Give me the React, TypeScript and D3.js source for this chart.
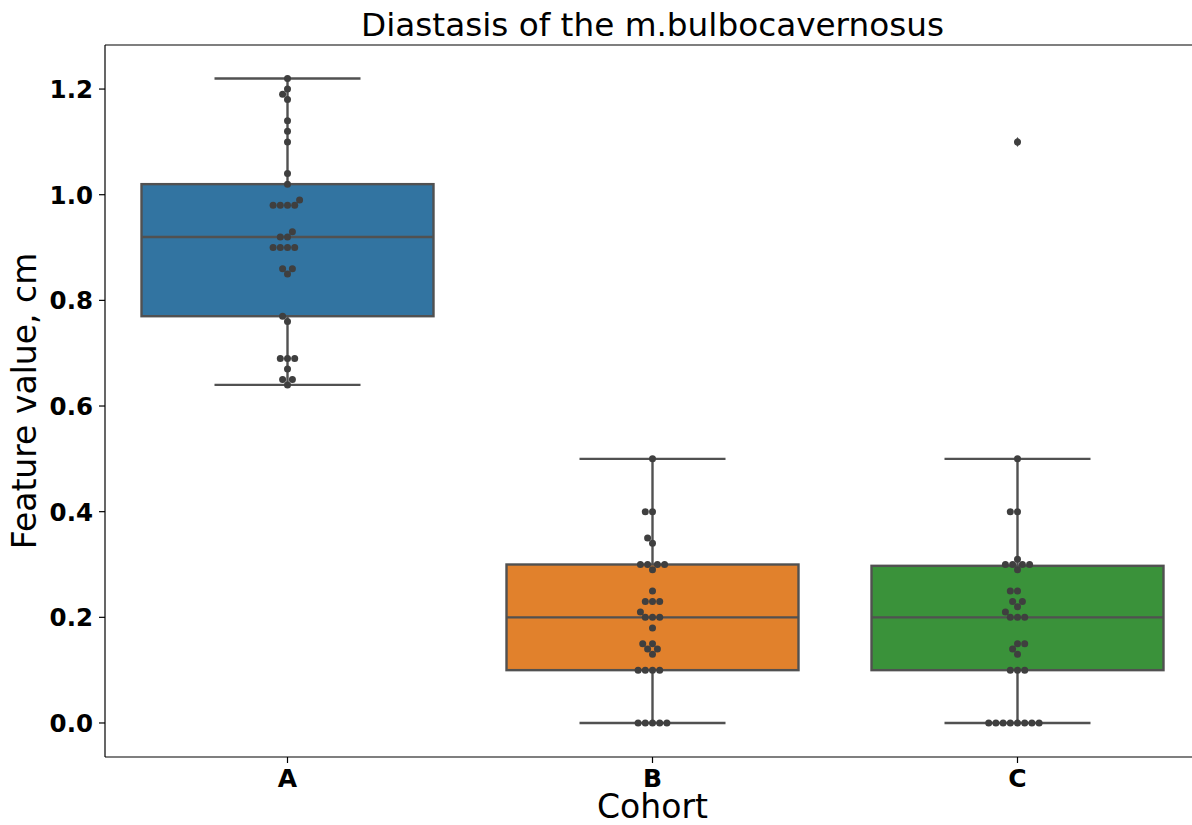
import * as d3 from 'd3'

const cohorts = ['A', 'B', 'C']

const cohortA = [
  1.22, 1.2, 1.19, 1.18, 1.14, 1.12, 1.1, 1.04, 1.02, 0.99, 0.98, 0.98, 0.98, 0.98, 0.93, 0.92, 0.92,
  0.9, 0.9, 0.9, 0.9, 0.86, 0.86, 0.85, 0.77, 0.76, 0.69, 0.69, 0.69, 0.67, 0.65, 0.65, 0.64,
]
const cohortB = [
  0.5, 0.4, 0.4, 0.35, 0.34, 0.3, 0.3, 0.3, 0.3, 0.29, 0.25, 0.23, 0.23, 0.23, 0.21, 0.2, 0.2, 0.2,
  0.18, 0.15, 0.15, 0.14, 0.14, 0.13, 0.1, 0.1, 0.1, 0.1, 0, 0, 0, 0, 0,
]
const cohortC = [
  1.1, 0.5, 0.4, 0.4, 0.31, 0.3, 0.3, 0.3, 0.3, 0.29, 0.25, 0.25, 0.23, 0.23, 0.22, 0.21, 0.2, 0.2,
  0.2, 0.15, 0.15, 0.14, 0.13, 0.1, 0.1, 0.1, 0, 0, 0, 0, 0, 0, 0, 0,
]
const series = [cohortA, cohortB, cohortC]
const boxColors = ['#3274a1', '#e1812c', '#3a923a']
const yTicks = [0, 0.2, 0.4, 0.6, 0.8, 1.0, 1.2]
const yLimits = [-0.0644, 1.2834]

const width = 1192
const height = 825
const margin = { top: 45, right: -8, bottom: 68, left: 105 }
const lineColor = '#515151'
const dotColor = '#3f3f3f'
const font = '"DejaVu Sans", sans-serif'

function boxStats(values: number[]) {
  const s = [...values].sort(d3.ascending)
  const q1 = d3.quantile(s, 0.25) as number
  const med = d3.quantile(s, 0.5) as number
  const q3 = d3.quantile(s, 0.75) as number
  const iqr = q3 - q1
  const lo = d3.min(s.filter((v) => v >= q1 - 1.5 * iqr)) as number
  const hi = d3.max(s.filter((v) => v <= q3 + 1.5 * iqr)) as number
  const fliers = s.filter((v) => v < lo || v > hi)
  return { q1, med, q3, lo, hi, fliers }
}

// beeswarm: place each point as close to the centre as possible without overlap
function swarm(values: number[], y: (v: number) => number, d: number) {
  const pts = [...values].sort(d3.ascending).map((v) => ({ v, y: y(v), dx: 0 }))
  const placed: { v: number; y: number; dx: number }[] = []
  for (const p of pts) {
    const nb = placed.filter((q) => Math.abs(q.y - p.y) < d)
    const cands = [0]
    for (const q of nb) {
      const off = Math.sqrt(d * d - (q.y - p.y) ** 2)
      cands.push(q.dx - off, q.dx + off)
    }
    cands.sort((a, b) => Math.abs(a) - Math.abs(b))
    for (const c of cands) {
      if (nb.every((q) => (q.dx - c) ** 2 + (q.y - p.y) ** 2 >= d * d - 1e-6)) {
        p.dx = c
        break
      }
    }
    placed.push(p)
  }
  return pts
}

export default function App() {
  const x = d3
    .scaleBand()
    .domain(cohorts)
    .range([margin.left, width - margin.right])
    .paddingInner(0)
    .paddingOuter(0)
  const y = d3
    .scaleLinear()
    .domain(yLimits)
    .range([height - margin.bottom, margin.top])

  const boxW = x.bandwidth() * 0.8
  const capW = boxW / 2
  const top = y(yLimits[1])
  const bottom = y(yLimits[0])
  const left = margin.left
  const sw = 2.4

  return (
    <svg
      width={width}
      height={height}
      style={{ position: 'absolute', left: 0, top: 0, background: '#fff' }}
      fontFamily={font}
    >
      <rect width={width} height={height} fill="#fff" />

      {series.map((vals, i) => {
        const cx = (x(cohorts[i]) as number) + x.bandwidth() / 2
        const st = boxStats(vals)
        const pts = swarm(vals, y, 7.2)
        return (
          <g key={cohorts[i]}>
            <line x1={cx} x2={cx} y1={y(st.q3)} y2={y(st.hi)} stroke={lineColor} strokeWidth={sw} />
            <line x1={cx} x2={cx} y1={y(st.q1)} y2={y(st.lo)} stroke={lineColor} strokeWidth={sw} />
            <line x1={cx - capW / 2} x2={cx + capW / 2} y1={y(st.hi)} y2={y(st.hi)} stroke={lineColor} strokeWidth={sw} />
            <line x1={cx - capW / 2} x2={cx + capW / 2} y1={y(st.lo)} y2={y(st.lo)} stroke={lineColor} strokeWidth={sw} />
            <rect
              x={cx - boxW / 2}
              y={y(st.q3)}
              width={boxW}
              height={y(st.q1) - y(st.q3)}
              fill={boxColors[i]}
              stroke={lineColor}
              strokeWidth={sw}
            />
            <line x1={cx - boxW / 2} x2={cx + boxW / 2} y1={y(st.med)} y2={y(st.med)} stroke={lineColor} strokeWidth={sw} />
            {st.fliers.map((f, j) => (
              <path
                key={'f' + j}
                d={`M${cx},${y(f) - 5} L${cx + 3.2},${y(f)} L${cx},${y(f) + 5} L${cx - 3.2},${y(f)} Z`}
                fill={lineColor}
              />
            ))}
            {pts.map((p, j) => (
              <circle key={j} cx={cx + p.dx} cy={p.y} r={3.5} fill={dotColor} />
            ))}
          </g>
        )
      })}

      {/* frame */}
      <line x1={left} x2={left} y1={top} y2={bottom} stroke="#000" strokeWidth={1.2} />
      <line x1={left} x2={width} y1={bottom} y2={bottom} stroke="#000" strokeWidth={1.2} />
      <line x1={left} x2={width} y1={top} y2={top} stroke="#000" strokeWidth={1.2} />

      {/* y axis */}
      {yTicks.map((t) => (
        <g key={t} transform={`translate(0,${y(t)})`}>
          <line x1={left - 6} x2={left} stroke="#000" strokeWidth={1.2} />
          <text x={left - 12} dy="0.36em" textAnchor="end" fontSize={24.5} fontWeight="bold" fill="#000">
            {d3.format('.1f')(t)}
          </text>
        </g>
      ))}

      {/* x axis */}
      {cohorts.map((c) => {
        const cx = (x(c) as number) + x.bandwidth() / 2
        return (
          <g key={c} transform={`translate(${cx},${bottom})`}>
            <line y1={0} y2={6} stroke="#000" strokeWidth={1.2} />
            <text y={30} textAnchor="middle" fontSize={25} fontWeight="bold" fill="#000">
              {c}
            </text>
          </g>
        )
      })}

      <text x={(left + width - margin.right) / 2} y={818} textAnchor="middle" fontSize={33} fill="#000">
        Cohort
      </text>
      <text
        transform={`translate(36,${(top + bottom) / 2}) rotate(-90)`}
        textAnchor="middle"
        fontSize={33}
        fill="#000"
      >
        Feature value, cm
      </text>
      <text x={(left + width - margin.right) / 2} y={36} textAnchor="middle" fontSize={32.7} fill="#000">
        Diastasis of the m.bulbocavernosus
      </text>
    </svg>
  )
}
